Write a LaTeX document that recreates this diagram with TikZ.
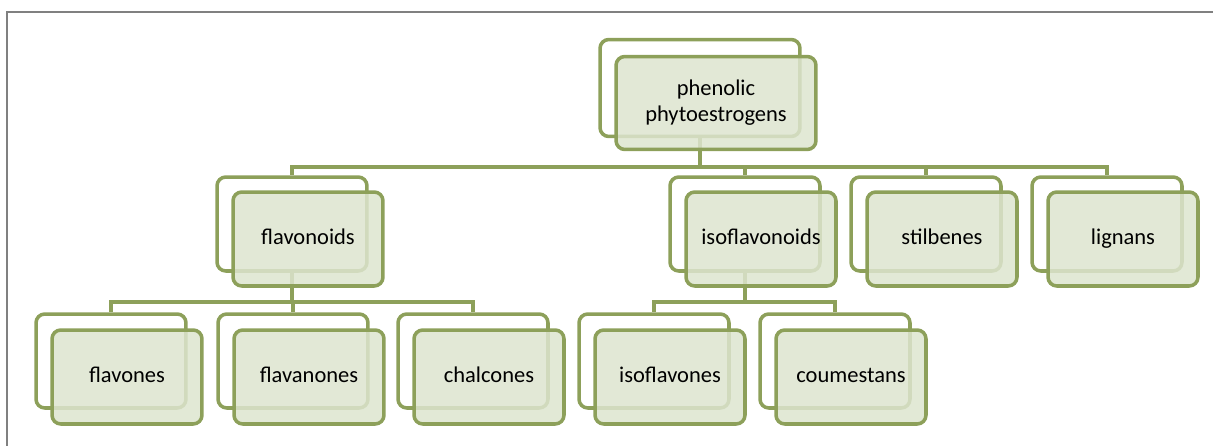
\documentclass[tikz,border=0pt]{standalone}
\usepackage{fontspec}
\setmainfont{Carlito}
\definecolor{leafline}{RGB}{141,160,90}
\definecolor{leaffill}{RGB}{221,229,207}
\definecolor{framegray}{RGB}{128,128,128}

\begin{document}
\begin{tikzpicture}[x=0.02cm,y=-0.02cm,
    backbox/.style={draw=leafline,line width=2pt,rounded corners=5pt,fill=white,
        minimum width=3cm,minimum height=1.88cm,inner sep=0pt},
    frontbox/.style={backbox,fill=leaffill,fill opacity=0.85,text opacity=1,
        font=\fontsize{12.8}{15}\selectfont,text height=1.75ex,text depth=.5ex},
    link/.style={draw=leafline,line width=2pt}]
    \useasboundingbox (0,0) rectangle (1213,446);
    \draw[framegray,line width=1.2pt] (1213,12) -- (7,12) -- (7,446);
    % back boxes
    \node[backbox,minimum width=4cm,minimum height=1.94cm] (topb) at (700,88) {};
    \node[backbox] (flavb) at (292,224) {};
    \node[backbox] (isofb) at (745,224) {};
    \node[backbox] (stilb) at (926,224) {};
    \node[backbox] (lignb) at (1107,224) {};
    \node[backbox] (flvsb) at (111,361) {};
    \node[backbox] (flvnb) at (293,361) {};
    \node[backbox] (chalb) at (473,361) {};
    \node[backbox] (isovb) at (654,361) {};
    \node[backbox] (coumb) at (835,361) {};
    % connectors
    \foreach \c in {flavb,isofb,stilb,lignb}
        \draw[link] (topb.south) -- (topb.south |- 0,167) -| (\c.north);
    \foreach \c in {flvsb,flvnb,chalb}
        \draw[link] (flavb.south) -- (flavb.south |- 0,302) -| (\c.north);
    \foreach \c in {isovb,coumb}
        \draw[link] (isofb.south) -- (isofb.south |- 0,302) -| (\c.north);
    % front boxes
    \node[backbox,fill=leaffill,fill opacity=0.85,text opacity=1,minimum width=4cm,minimum height=1.86cm,
        align=center,font=\fontsize{12.8}{14.8}\selectfont] (top) at ([shift={(16,15)}]topb.center) {phenolic\\phytoestrogens};
    \node[frontbox] (flav) at ([shift={(16,15)}]flavb.center) {flavonoids};
    \node[frontbox] (isof) at ([shift={(16,15)}]isofb.center) {isoflavonoids};
    \node[frontbox] (stil) at ([shift={(16,15)}]stilb.center) {stilbenes};
    \node[frontbox] (lign) at ([shift={(16,15)}]lignb.center) {lignans};
    \node[frontbox] (flvs) at ([shift={(16,16)}]flvsb.center) {flavones};
    \node[frontbox] (flvn) at ([shift={(16,16)}]flvnb.center) {flavanones};
    \node[frontbox] (chal) at ([shift={(16,16)}]chalb.center) {chalcones};
    \node[frontbox] (isov) at ([shift={(16,16)}]isovb.center) {isoflavones};
    \node[frontbox] (coum) at ([shift={(16,16)}]coumb.center) {coumestans};
\end{tikzpicture}
\end{document}
